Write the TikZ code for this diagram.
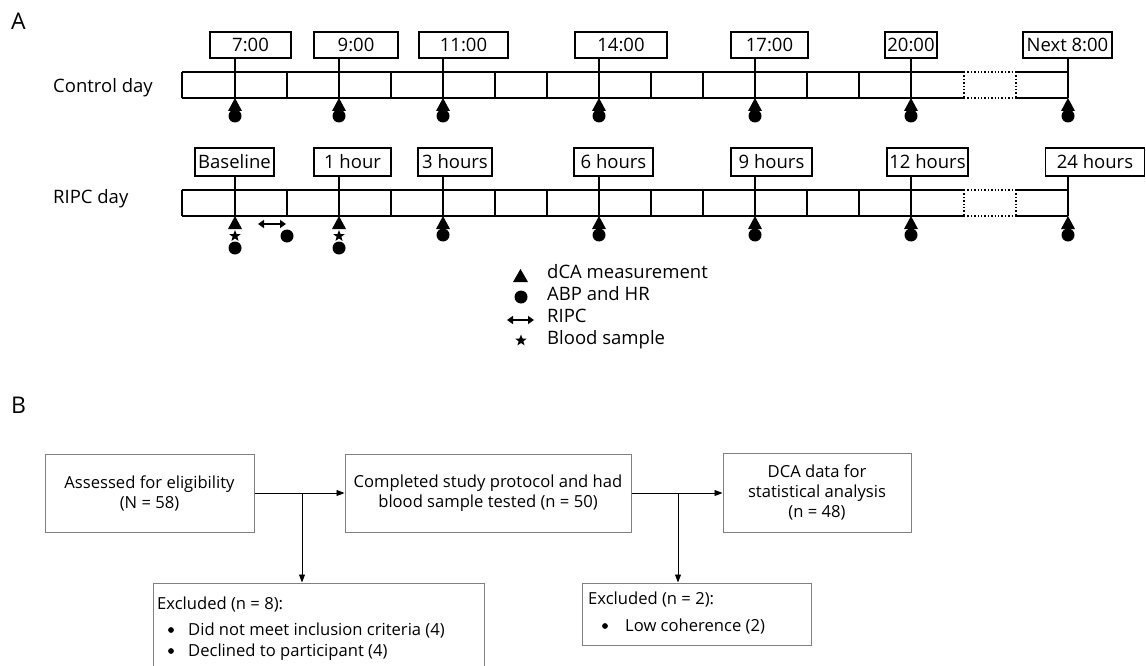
\documentclass[tikz,border=0pt]{standalone}
\usepackage{fontspec}
\setmainfont{Open Sans}
\usetikzlibrary{arrows.meta,shapes.geometric}
\begin{document}
\begin{tikzpicture}[x=1pt,y=-1pt,
  panel/.style={font=\fontsize{23}{26}\selectfont,inner sep=0pt},
  afont/.style={font=\fontsize{18.5}{22}\selectfont},
  tbox/.style={draw,line width=1.4pt,inner sep=0pt,afont},
  rowlab/.style={afont,inner sep=0pt,anchor=west},
  bar/.style={line width=1.4pt},
  dbar/.style={line width=1.4pt,dotted},
  tick/.style={line width=1.4pt},
  leg/.style={afont,inner sep=0pt,anchor=west,text height=0.72em,text depth=0.2em},
  ripc/.style={line width=2.2pt,{Triangle[length=6pt,width=8pt]}-{Triangle[length=6pt,width=8pt]}},
  mtri/.pic={\fill (-7,13) -- (7,13) -- (0,0) -- cycle;},
  mdot/.pic={\fill (0,0) circle (6.5);},
  mbul/.pic={\fill (0,0) circle (2.9);},
  mstar/.pic={\node[star,star points=5,star point ratio=2.4,fill,inner sep=0pt,minimum size=12pt] {};},
  fbox/.style={draw=black!50,line width=1pt,inner sep=0pt,align=center,bfont},
  bfont/.style={font=\fontsize{16.6}{20}\selectfont},
  btxt/.style={bfont,inner sep=0pt,anchor=west,text height=0.72em,text depth=0.2em},
  flow/.style={line width=0.9pt,-{Triangle[length=8pt,width=6pt]}}
]
\useasboundingbox (0,0) rectangle (1146,666);

% ---------- Panel A ----------
\node[panel] (pA) at (18.5,21) {A};
\node[rowlab] (lctl) at (53,88) {Control day};
\node[rowlab] (lripc) at (53,199) {RIPC day};

% bars
\foreach \t/\b in {72/98,190/216}{
  \draw[bar] (182,\t) -- (964,\t);
  \draw[dbar] (964,\t) -- (1016,\t);
  \draw[bar] (1016,\t) -- (1068,\t);
  \draw[bar] (182,\b) -- (964,\b);
  \draw[dbar] (964,\b) -- (1016,\b);
  \draw[bar] (1016,\b) -- (1068,\b);
  \foreach \x in {182,287,391,495,547,651,703,807,859}{\draw[bar] (\x,\t) -- (\x,\b);}
  \foreach \x in {964,1016}{\draw[dbar] (\x,\t) -- (\x,\b);}
}

% control day boxes
\node[tbox,minimum width=81pt,minimum height=26pt] (c1) at (250.5,45) {7:00};
\node[tbox,minimum width=84pt,minimum height=26pt] (c2) at (356,45) {9:00};
\node[tbox,minimum width=89pt,minimum height=26pt] (c3) at (463.5,45) {11:00};
\node[tbox,minimum width=92pt,minimum height=26pt] (c4) at (621,45) {14:00};
\node[tbox,minimum width=77pt,minimum height=26pt] (c5) at (769.5,45) {17:00};
\node[tbox,minimum width=52pt,minimum height=26pt] (c6) at (911,45) {20:00};
\node[tbox,minimum width=89pt,minimum height=26pt] (c7) at (1067.5,45) {Next 8:00};
\foreach \i/\x in {1/235,2/339,3/443,4/599,5/755,6/911,7/1068}{
  \coordinate (cb\i) at (\x,98);
  \draw[tick] (c\i.south -| cb\i) -- (cb\i);
  \pic at (cb\i) {mtri};
  \pic at ([yshift=-18pt]cb\i) {mdot};
}

% RIPC day boxes
\node[tbox,minimum width=79pt,minimum height=28pt] (r1) at (234.5,162) {Baseline};
\node[tbox,minimum width=77pt,minimum height=28pt] (r2) at (352.5,162) {1 hour};
\node[tbox,minimum width=74pt,minimum height=28pt] (r3) at (455,162) {3 hours};
\node[tbox,minimum width=79pt,minimum height=28pt] (r4) at (613.5,162) {6 hours};
\node[tbox,minimum width=81pt,minimum height=28pt] (r5) at (771.5,162) {9 hours};
\node[tbox,minimum width=81pt,minimum height=28pt] (r6) at (927.5,162) {12 hours};
\node[tbox,minimum width=99pt,minimum height=28pt] (r7) at (1095,162) {24 hours};
\foreach \i/\x in {1/235,2/339,3/443,4/599,5/755,6/911,7/1068}{
  \coordinate (rb\i) at (\x,216);
  \draw[tick] (r\i.south -| rb\i) -- (rb\i);
  \pic at (rb\i) {mtri};
}
\foreach \i in {1,2}{
  \pic at ([yshift=-20pt]rb\i) {mstar};
  \pic at ([yshift=-32pt]rb\i) {mdot};
}
\foreach \i in {3,4,5,6,7}{
  \pic at ([yshift=-19pt]rb\i) {mdot};
}
\coordinate (ra1) at (258,224);
\coordinate (ra2) at (286,224);
\draw[ripc] (ra1) -- (ra2);
\pic at (287,236) {mdot};

% legend
\fill (513,282) -- (528,282) -- (520.5,269) -- cycle;
\node[leg] (g1) at (547,276) {dCA measurement};
\pic at (521,297) {mdot};
\node[leg] (g2) at (547,298) {ABP and HR};
\coordinate (ga1) at (507,320);
\coordinate (ga2) at (534,320);
\draw[ripc] (ga1) -- (ga2);
\node[leg] (g3) at (547,320) {RIPC};
\pic at (521,340.5) {mstar};
\node[leg] (g4) at (547,342) {Blood sample};

% ---------- Panel B ----------
\node[panel] (pB) at (18.5,405) {B};
\node[fbox,minimum width=209pt,minimum height=78pt] (b1) at (149.5,493) {Assessed for eligibility\\(N = 58)};
\node[fbox,minimum width=286pt,minimum height=78pt] (b2) at (488,493) {Completed study protocol and had\\blood sample tested (n = 50)};
\node[fbox,minimum width=188pt,minimum height=79pt] (b3) at (817,492.5) {DCA data for\\statistical analysis\\(n = 48)};
\node[fbox,minimum width=331pt,minimum height=117pt] (e1) at (318.5,641.5) {};
\node[fbox,minimum width=229pt,minimum height=62pt] (e2) at (696.5,614) {};

\coordinate (j1) at (302,493);
\coordinate (j2) at (678,493);
\draw[flow] (b1.east) -- (b2.west);
\draw[flow] (b2.east) -- (b3.west |- b2.east);
\draw[flow] (j1) -- (j1 |- e1.north);
\draw[flow] (j2) -- (j2 |- e2.north);

\node[btxt] (t1) at (157,607) {Excluded (n = 8):};
\pic at (171,630) {mbul};
\node[btxt] (t1b) at (188,633) {Did not meet inclusion criteria (4)};
\pic at (171,651) {mbul};
\node[btxt] (t1d) at (188,654) {Declined to participant (4)};
\node[btxt] (t2) at (588,602) {Excluded (n = 2):};
\pic at (605,626) {mbul};
\node[btxt] (t2b) at (625,629) {Low coherence (2)};
\end{tikzpicture}
\end{document}
